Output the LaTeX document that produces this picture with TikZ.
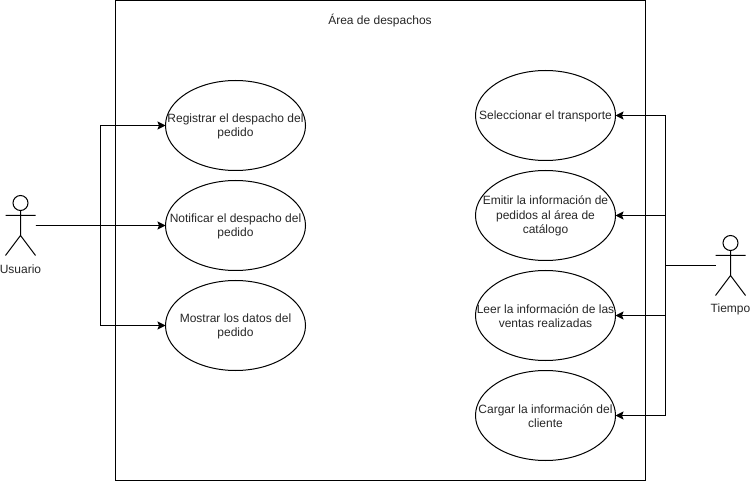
\documentclass[tikz,border=0pt]{standalone}
\usepackage{fontspec}
\setmainfont{Liberation Sans}
\usetikzlibrary{arrows.meta,shapes.geometric}
\tikzset{x=1pt,y=-1pt,
 uc/.style={draw,ellipse,line width=1pt,minimum width=140pt,minimum height=90pt,inner sep=0pt,outer sep=0pt},
 lbl/.style={font=\fontsize{12}{14.5}\selectfont,align=center,inner sep=0pt,text=black!85},
 conn/.style={line width=1pt,-{Stealth[length=8pt,width=8pt,inset=1.5pt]}},
 act/.style={line width=1pt}}
\newcommand{\uca}[4]{\node[uc] (#1) at (#2,#3) {};\node[lbl,yshift=-0.8pt] (#1t) at (#2,#3) {#4};}
\begin{document}
\begin{tikzpicture}
\useasboundingbox (0,0) rectangle (750,481);
\node[draw,line width=1pt,outer sep=0pt,minimum width=530pt,minimum height=480pt,inner sep=0pt] (area) at (380.5,240.5) {};
\node[lbl] (title) at (380,20.5) {Área de despachos};
\uca{a}{235.5}{125.5}{Registrar el despacho del\\pedido}
\uca{b}{235.5}{225.5}{Notificar el despacho del\\pedido}
\uca{c}{235.5}{325.5}{Mostrar los datos del\\pedido}
\uca{d}{545.5}{115.5}{Seleccionar el transporte}
\uca{e}{545.5}{215.5}{Emitir la información de\\pedidos al área de\\catálogo}
\uca{f}{545.5}{315.5}{Leer la información de las\\ventas realizadas}
\uca{g}{545.5}{415.5}{Cargar la información del\\cliente}
% Usuario
\node[draw,circle,act,minimum size=15pt,inner sep=0pt,outer sep=0pt] (uh) at (20.5,203) {};
\coordinate (ub) at (20.5,235.5);
\draw[act] (uh.south) -- (ub) (5.5,215.5) -- (35.5,215.5) (5.5,255.5) -- (ub) -- (35.5,255.5);
\node[lbl] (ul) at (20.5,269) {Usuario};
\coordinate (us) at (35.5,225.5);
% Tiempo
\node[draw,circle,act,minimum size=15pt,inner sep=0pt,outer sep=0pt] (th) at (730.5,243) {};
\coordinate (tb) at (730.5,275.5);
\draw[act] (th.south) -- (tb) (715.5,255.5) -- (745.5,255.5) (715.5,295.5) -- (tb) -- (745.5,295.5);
\node[lbl] (tl) at (730.5,309) {Tiempo};
\coordinate (ts) at (715.5,265.5);
\coordinate (uj) at (100.5,225.5);
\coordinate (tj) at (665.5,265.5);
\draw[conn] (us) -- (b.west);
\draw[conn] (us) -- (uj) |- (a.west);
\draw[conn] (us) -- (uj) |- (c.west);
\draw[conn] (ts) -- (tj) |- (d.east);
\draw[conn] (ts) -- (tj) |- (e.east);
\draw[conn] (ts) -- (tj) |- (f.east);
\draw[conn] (ts) -- (tj) |- (g.east);
\end{tikzpicture}
\end{document}
